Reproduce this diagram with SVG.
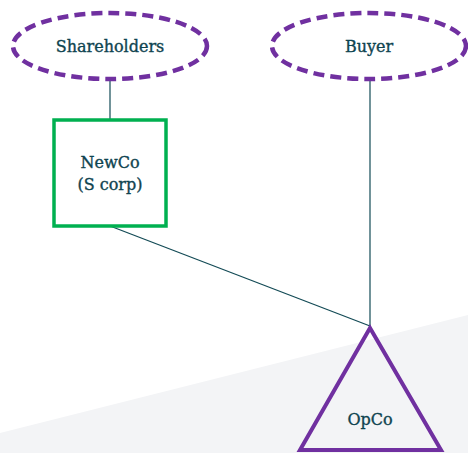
<svg xmlns="http://www.w3.org/2000/svg" width="468" height="453" viewBox="0 0 468 453">
<style>
.lbl{font-family:"DejaVu Serif","Liberation Serif",serif;font-size:16px;fill:#0f4450;stroke:#0f4450;stroke-width:0.35;text-anchor:middle}
.dash{fill:none;stroke:#7030a0;stroke-width:4.5;stroke-dasharray:11 6}
.conn{stroke:#124a55;stroke-width:1.2;fill:none}
</style>
<rect width="468" height="453" fill="#ffffff"/>
<polygon points="0,433 468,315 468,453 0,453" fill="#f3f4f6"/>
<g id="connectors">
<line class="conn" x1="110" y1="79" x2="110" y2="119"/>
<line class="conn" x1="110" y1="226" x2="370" y2="326"/>
<line class="conn" x1="370" y1="79" x2="370" y2="326"/>
</g>
<g id="shareholders">
<ellipse class="dash" cx="110" cy="46" rx="97" ry="33"/>
<text class="lbl" x="110" y="52">Shareholders</text>
</g>
<g id="buyer">
<ellipse class="dash" cx="369" cy="46" rx="97" ry="33"/>
<text class="lbl" x="369" y="52">Buyer</text>
</g>
<g id="newco">
<rect x="54" y="120" width="112" height="106" fill="#ffffff" stroke="#00b050" stroke-width="3.5"/>
<text class="lbl" x="110" y="168">NewCo</text>
<text class="lbl" x="110" y="190">(S corp)</text>
</g>
<g id="opco">
<polygon points="370,328 300,450 441,450" fill="none" stroke="#7030a0" stroke-width="4" stroke-linejoin="miter"/>
<text class="lbl" x="370" y="425">OpCo</text>
</g>
</svg>
